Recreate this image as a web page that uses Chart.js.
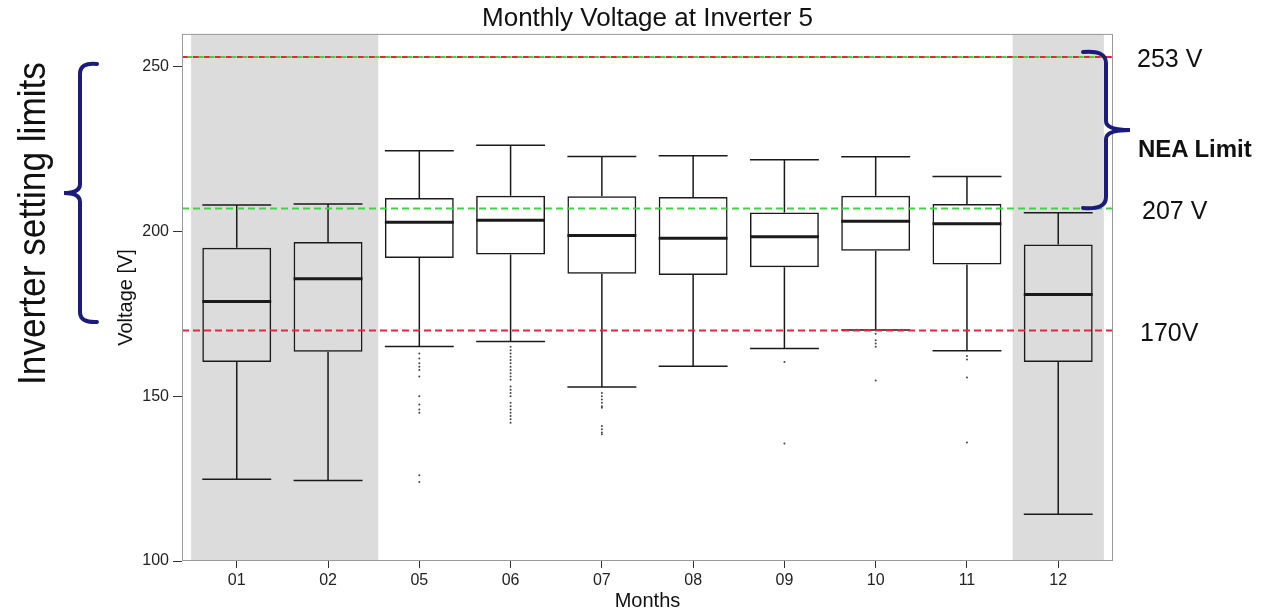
<!DOCTYPE html>
<html>
<head>
<meta charset="utf-8">
<script src="https://cdn.jsdelivr.net/npm/chart.js@4.4.1/dist/chart.umd.min.js"></script>
<style>
  html, body { margin: 0; padding: 0; background: #fff; }
  #wrap { position: relative; width: 1276px; height: 614px; }
  #c { position: absolute; left: 0; top: 0; }
  #ann { position: absolute; left: 0; top: 0; pointer-events: none; }
  #ann text { font-family: "Liberation Sans", Arial, sans-serif; fill: #111; }
</style>
</head>
<body>
<div id="wrap">
  <canvas id="c" width="1276" height="614"></canvas>
  <svg id="ann" width="1276" height="614" xmlns="http://www.w3.org/2000/svg">
    <path d="M1083,52 Q1106,50 1106,63 L1106,121 Q1106,130 1130,130 Q1106,130 1106,139 L1106,197 Q1106,210 1083,208" fill="none" stroke="#1b1b7d" stroke-width="4" stroke-linecap="round"/>
    <path d="M97,64 Q80,62 80,74 L80,184 Q80,193 64,193 Q80,193 80,202 L80,312 Q80,323 97,322" fill="none" stroke="#1b1b7d" stroke-width="4" stroke-linecap="round"/>
    <text x="1137" y="67" font-size="25">253 V</text>
    <text x="1138" y="157" font-size="24" font-weight="bold">NEA Limit</text>
    <text x="1142" y="219" font-size="25">207 V</text>
    <text x="1140" y="341" font-size="25">170V</text>
    <text transform="translate(45,223.5) rotate(-90)" text-anchor="middle" font-size="38" textLength="323" lengthAdjust="spacingAndGlyphs">Inverter  setting limits</text>
  </svg>
</div>
<script>
// ---- Data ----
const months = ['01', '02', '05', '06', '07', '08', '09', '10', '11', '12'];
const whiskerLow  = [124.8, 124.4, 165.1, 166.6, 152.8, 159.1, 164.5, 170.1, 163.8, 114.2];
const q1          = [160.4, 163.5, 192.0, 193.0, 187.2, 186.8, 189.2, 194.2, 190.0, 160.4];
const median      = [178.8, 185.7, 202.8, 203.4, 198.8, 198.0, 198.4, 203.1, 202.4, 180.9];
const q3          = [195.1, 196.8, 210.2, 210.9, 210.7, 210.5, 205.8, 210.9, 208.4, 196.1];
const whiskerHigh = [208.1, 208.4, 224.5, 226.2, 222.8, 223.0, 221.8, 222.7, 216.7, 205.7];
const outliers = [
  [],
  [],
  [163, 161.5, 160, 159, 158, 156, 150, 147.5, 146, 145, 126, 124],
  [165, 164, 163, 162, 161, 160, 159, 158, 157, 156, 155, 153, 152, 151, 150, 148, 147, 146, 145, 144, 143, 142],
  [151, 150, 149, 148, 147, 146.5, 141, 140, 139, 138.5],
  [],
  [160.4, 135.7],
  [169, 167, 166, 165, 154.8],
  [162.2, 161.2, 155.7, 136],
  []
];
const limitHigh = 253;   // NEA upper limit
const limitNEALow = 207; // NEA lower limit
const limitInvLow = 170; // inverter lower limit
const shadedRanges = [[-0.5, 1.55], [8.5, 9.5]];
const yTicks = [100, 150, 200, 250];
const xMin = -0.6, xMax = 9.6, yMin = 100, yMax = 260;

const FONT = '"Liberation Sans", Arial, sans-serif';

const boxData = months.map((m, i) => ({ x: i, y: [q1[i], q3[i]] }));
const outlierData = [];
outliers.forEach((arr, i) => arr.forEach(v => outlierData.push({ x: i, y: v })));
const hLine = v => [{ x: xMin, y: v }, { x: xMax, y: v }];

const boxPlugin = {
  id: 'boxplot',
  beforeDatasetsDraw(chart) {
    const { ctx, chartArea: a, scales: { x, y } } = chart;
    ctx.save();
    // shaded months
    ctx.fillStyle = '#dcdcdc';
    shadedRanges.forEach(([s, e]) => {
      const x0 = x.getPixelForValue(s), x1 = x.getPixelForValue(e);
      ctx.fillRect(x0, a.top, x1 - x0, a.bottom - a.top);
    });
    // whiskers, caps, medians
    const meta = chart.getDatasetMeta(0);
    ctx.strokeStyle = '#1a1a1a';
    months.forEach((m, i) => {
      const el = meta.data[i];
      const cx = x.getPixelForValue(i);
      const hw = el.width / 2;
      ctx.lineWidth = 1.5;
      ctx.beginPath();
      ctx.moveTo(cx, y.getPixelForValue(q3[i]));
      ctx.lineTo(cx, y.getPixelForValue(whiskerHigh[i]));
      ctx.moveTo(cx, y.getPixelForValue(q1[i]));
      ctx.lineTo(cx, y.getPixelForValue(whiskerLow[i]));
      const yh = y.getPixelForValue(whiskerHigh[i]);
      const yl = y.getPixelForValue(whiskerLow[i]);
      ctx.moveTo(cx - hw, yh); ctx.lineTo(cx + hw, yh);
      ctx.moveTo(cx - hw, yl); ctx.lineTo(cx + hw, yl);
      ctx.stroke();
      ctx.lineWidth = 3;
      ctx.beginPath();
      const ym = y.getPixelForValue(median[i]);
      ctx.moveTo(cx - hw, ym); ctx.lineTo(cx + hw, ym);
      ctx.stroke();
    });
    ctx.restore();
  },
  afterDraw(chart) {
    const { ctx, chartArea: a } = chart;
    ctx.save();
    ctx.strokeStyle = '#9a9a9a';
    ctx.lineWidth = 1;
    ctx.strokeRect(a.left + 0.5, a.top + 0.5, a.right - a.left - 1, a.bottom - a.top - 1);
    ctx.restore();
  }
};

new Chart(document.getElementById('c'), {
  type: 'bar',
  data: {
    datasets: [
      {
        type: 'bar', data: boxData, order: 3,
        backgroundColor: 'rgba(0,0,0,0)', borderColor: '#1a1a1a', borderWidth: 1.5,
        borderSkipped: false, barPercentage: 0.755, categoryPercentage: 1
      },
      {
        type: 'scatter', data: outlierData, order: 2,
        pointRadius: 1, pointBackgroundColor: '#444', pointBorderWidth: 0
      },
      {
        type: 'line', data: hLine(limitInvLow), order: 1,
        borderColor: '#e8253f', borderWidth: 2, borderDash: [7, 4], pointRadius: 0, fill: false
      },
      {
        type: 'line', data: hLine(limitHigh), order: 1,
        borderColor: '#e8253f', borderWidth: 2, borderDash: [6, 5], pointRadius: 0, fill: false
      },
      {
        type: 'line', data: hLine(limitHigh), order: 0,
        borderColor: '#3ed63e', borderWidth: 2, borderDash: [5, 6], borderDashOffset: 5.5, pointRadius: 0, fill: false
      },
      {
        type: 'line', data: hLine(limitNEALow), order: 0,
        borderColor: '#3ed63e', borderWidth: 2, borderDash: [7, 4], pointRadius: 0, fill: false
      }
    ]
  },
  options: {
    responsive: false,
    animation: false,
    events: [],
    layout: { padding: { left: 110, right: 163, top: 0, bottom: 0 } },
    plugins: {
      legend: { display: false },
      tooltip: { enabled: false },
      title: {
        display: true, text: 'Monthly Voltage at Inverter 5', fullSize: false,
        color: '#111', font: { family: FONT, size: 26, weight: 'normal', lineHeight: 1.15 },
        padding: { top: 4, bottom: 0 }
      }
    },
    scales: {
      x: {
        type: 'linear', min: xMin, max: xMax, offset: false,
        afterFit: s => { s.height = 53; },
        afterBuildTicks: s => { s.ticks = months.map((m, i) => ({ value: i })); },
        ticks: {
          autoSkip: false, maxRotation: 0, padding: 3, color: '#222',
          font: { family: FONT, size: 16 },
          callback: v => months[v]
        },
        grid: { display: true, drawOnChartArea: false, drawTicks: true, tickLength: 7, color: '#333', offset: false },
        border: { display: false },
        title: {
          display: true, text: 'Months', color: '#111',
          font: { family: FONT, size: 20 }, padding: { top: 0, bottom: 1 }
        }
      },
      y: {
        type: 'linear', min: yMin, max: yMax,
        afterFit: s => { s.width = 72; },
        afterBuildTicks: s => { s.ticks = yTicks.map(v => ({ value: v })); },
        ticks: { padding: 4, color: '#222', font: { family: FONT, size: 16 } },
        grid: { display: true, drawOnChartArea: false, drawTicks: true, tickLength: 9, color: '#333' },
        border: { display: false },
        title: {
          display: true, text: 'Voltage [V]', color: '#111',
          font: { family: FONT, size: 20 }, padding: { top: 4, bottom: 0 }
        }
      }
    }
  },
  plugins: [boxPlugin]
});
</script>
</body>
</html>
